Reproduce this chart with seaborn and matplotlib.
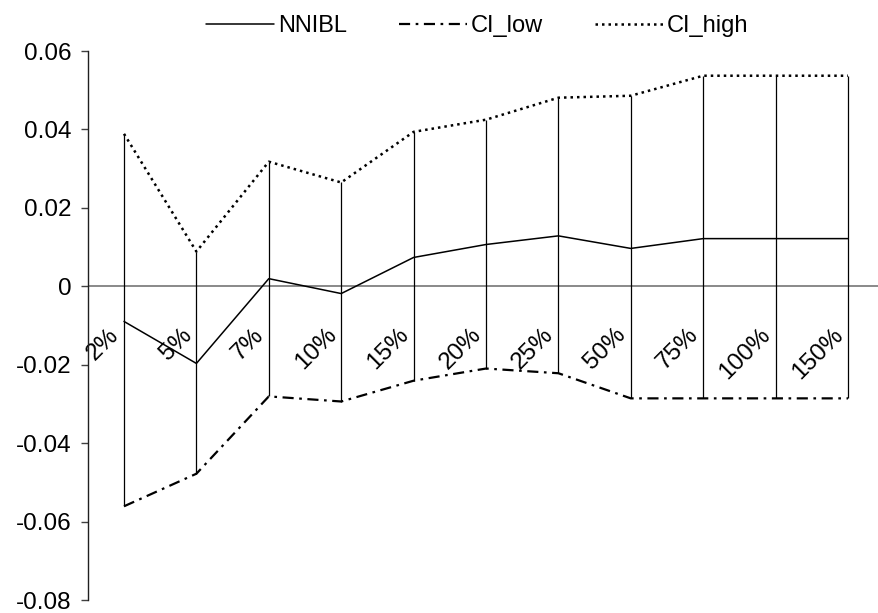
import matplotlib
matplotlib.use("Agg")
import matplotlib.pyplot as plt
import matplotlib.transforms as mtransforms
import seaborn as sns
import pandas as pd
import numpy as np

categories = ["2%", "5%", "7%", "10%", "15%", "20%", "25%", "50%", "75%", "100%", "150%"]
nnibl = [-0.0089, -0.0196, 0.0020, -0.0018, 0.0074, 0.0107, 0.0129, 0.0097, 0.0122, 0.0122, 0.0122]
ci_low = [-0.0560, -0.0477, -0.0280, -0.0293, -0.0240, -0.0209, -0.0221, -0.0285, -0.0285, -0.0285, -0.0285]
ci_high = [0.0389, 0.0089, 0.0318, 0.0265, 0.0394, 0.0425, 0.0481, 0.0486, 0.0537, 0.0537, 0.0537]
y_ticks = [0.06, 0.04, 0.02, 0, -0.02, -0.04, -0.06, -0.08]
y_tick_labels = ["0.06", "0.04", "0.02", "0", "-0.02", "-0.04", "-0.06", "-0.08"]

sns.set_theme(style="white")
plt.rcParams["font.family"] = ["Liberation Sans", "DejaVu Sans"]
plt.rcParams["text.color"] = "black"
plt.rcParams["xtick.color"] = "black"
plt.rcParams["ytick.color"] = "black"
FS = 17.5

pos = np.arange(len(categories))
df = pd.DataFrame({"pos": pos, "NNIBL": nnibl, "CI_low": ci_low, "CI_high": ci_high})
long = df.melt(id_vars="pos", var_name="series", value_name="value")

fig = plt.figure(figsize=(8.79, 6.13), dpi=100)
ax = fig.add_axes([87.8 / 879, 1 - 600.5 / 613, 796.4 / 879, 549.5 / 613])

# high-low lines between the interval bounds
ax.vlines(pos, ci_low, ci_high, color="black", lw=0.9, zorder=2)
ax.axhline(0, color="#808080", lw=1.3, zorder=1)

dash_styles = {
    "NNIBL": (1.1, None),
    "CI_low": (1.6, (5, 2.5, 1.2, 2.5)),
    "CI_high": (1.8, (1, 1.6)),
}
for name in ["NNIBL", "CI_low", "CI_high"]:
    sub = long[long["series"] == name]
    lw, dashes = dash_styles[name]
    sns.lineplot(data=sub, x="pos", y="value", ax=ax, color="black",
                 lw=lw, label=name, zorder=3)
    if dashes is not None:
        ax.get_lines()[-1].set_dashes(dashes)

# category axis sits on the zero line
ax.spines["bottom"].set_position(("data", 0))
ax.spines["bottom"].set_visible(False)
ax.spines["top"].set_visible(False)
ax.spines["right"].set_visible(False)
ax.spines["left"].set_color("#202020")
ax.spines["left"].set_linewidth(1.0)

ax.set_xlim(-0.5, len(categories) - 0.5)
ax.set_ylim(-0.08, 0.06)
ax.set_yticks(y_ticks)
ax.set_yticklabels(y_tick_labels, fontsize=FS, color="black")
ax.set_xticks(pos)
ax.set_xticklabels(categories, fontsize=FS, rotation=45, ha="right",
                   va="top", rotation_mode="anchor", color="black")
ax.set_xlabel("")
ax.set_ylabel("")

ax.tick_params(axis="y", direction="out", length=5, width=1.0, color="#404040",
               pad=7, left=True)
ax.tick_params(axis="x", length=0, pad=27)
shift = mtransforms.ScaledTranslation(-16 / 100, 0, fig.dpi_scale_trans)
for lbl in ax.get_xticklabels():
    lbl.set_transform(lbl.get_transform() + shift)
ax.grid(False)

leg = ax.legend(loc="center", bbox_to_anchor=(0.543, 0.957), bbox_transform=fig.transFigure,
                ncol=3, frameon=False, fontsize=17, handlelength=2.9, handletextpad=0.15,
                columnspacing=2.2)
for t in leg.get_texts():
    t.set_color("black")

fig.savefig("out.png", dpi=100)
